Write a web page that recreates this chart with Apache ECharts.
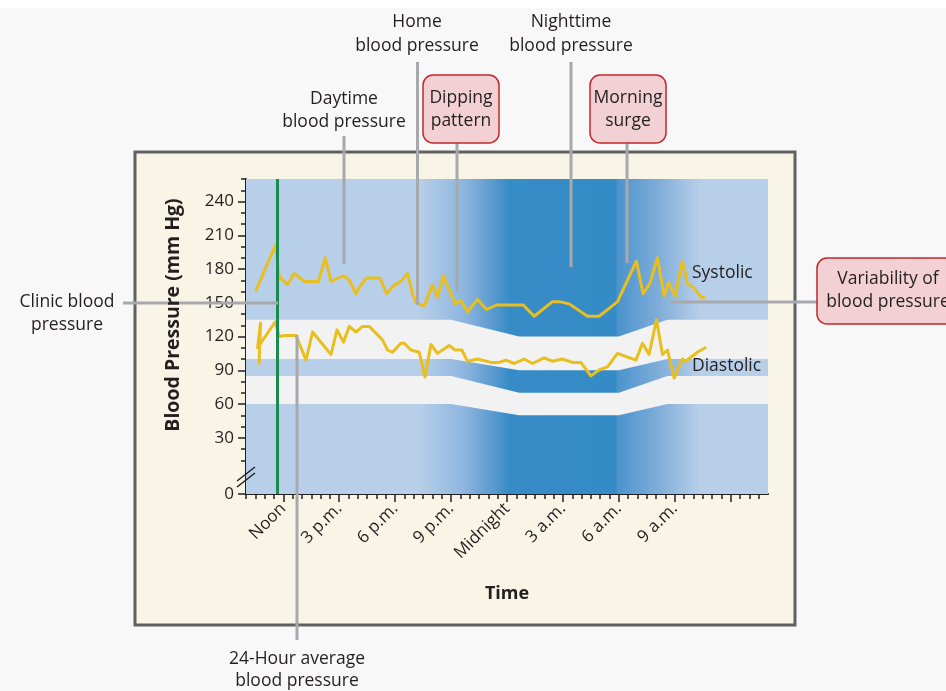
<!DOCTYPE html>
<html><head><meta charset="utf-8">
<script src="https://cdn.jsdelivr.net/npm/echarts@6/dist/echarts.min.js"></script>
<style>html,body{margin:0;padding:0;background:#f8f8f8;}#c{width:946px;height:691px;}</style>
</head><body><div id="c"></div><script>
// ---- data (hours after noon, mmHg) ----
const sysHours = [-1.46,-0.43,-0.21,0.23,0.59,1.13,1.89,2.25,2.56,3.22,3.54,3.9,4.17,4.47,5.18,5.54,5.9,6.31,6.66,6.95,7.12,7.56,8.0,8.27,8.58,9.22,9.53,9.88,10.42,10.9,11.44,12.87,13.46,14.44,14.8,15.34,16.32,16.94,17.48,17.93,18.94,19.3,19.66,20.07,20.43,20.66,21.02,21.41,21.68,22.04,22.4,22.57];
const sysValues = [161,201,173,166,176,169,169,190,169,174,170,158,166,172,172,158,165,169,176,157,150,147,166,155,174,149,152,142,153,144,148,148,138,151,151,149,138,138,145,151,187,158,167,190,156,168,156,187,167,163,155,155];
const diaHours = [-1.3,-1.22,-1.38,-0.43,-0.21,0.14,0.68,1.22,1.57,2.56,2.88,3.23,3.54,3.9,4.25,4.61,5.32,5.59,5.86,6.31,6.49,6.85,7.29,7.6,7.92,8.27,8.9,9.22,9.58,9.88,10.42,11.14,11.58,11.94,12.39,12.92,13.37,13.99,14.44,14.97,15.51,15.96,16.5,16.91,17.39,17.93,18.91,19.27,19.62,20.02,20.34,20.61,20.97,21.41,21.59,22.21,22.63];
const diaValues = [96,132,110,133,120,121,121,99,124,104,126,115,129,124,129,129,117,108,106,114,114,108,106,84,113,105,112,108,108,98,100,97,97,99,96,100,96,101,98,100,97,97,85,90,93,105,99,114,104,135,104,108,83,100,98,106,110];
const clinicHour = [-0.32];
const bandHours = [-2, 9, 12.65, 18, 20.6, 26];
const upperBandTop = [135,135,120,120,135,135];
const upperBandBottom = [100,100,90,90,100,100];
const lowerBandTop = [85,85,70,70,85,85];
const lowerBandBottom = [60,60,50,50,60,60];
const xLabelHours = [0,3,6,9,12,15,18,21];
const xLabels = ['Noon','3 p.m.','6 p.m.','9 p.m.','Midnight','3 a.m.','6 a.m.','9 a.m.'];
const yLabelValues = [-20,30,60,90,120,150,180,210,240];
const yLabels = ['0','30','60','90','120','150','180','210','240'];

const X_MIN = -2, X_MAX = 26, Y_MIN = -20, Y_MAX = 260;
const zip = (a,b) => a.map((v,i)=>[v,b[i]]);
const xMajor = [], xMinor = [];
for (let h = X_MIN; h <= X_MAX - 0.5 + 1e-9; h += 0.5) { if (Math.abs(h % 3) < 1e-9 && h >= 0) xMajor.push(h); else xMinor.push(h); }
const yMinor = [];
for (let v = 10; v <= 260; v += 10) { if (v % 30 !== 0) yMinor.push(v); }

const FONT = 'Open Sans';
const TXT = '#231f20';
const chart = echarts.init(document.getElementById('c'), null, {renderer:'canvas'});

function bandPoly(api, top, bottom){
  const pts = [];
  for (let i=0;i<bandHours.length;i++) pts.push(api.coord([bandHours[i], top[i]]));
  for (let i=bandHours.length-1;i>=0;i--) pts.push(api.coord([bandHours[i], bottom[i]]));
  return {type:'polygon', shape:{points:pts}, style:{fill:'#f2f2f2'}};
}

const hiddenLine = {show:true, onZero:false, lineStyle:{color:'rgba(0,0,0,0)', width:0}};
const axisCommon = {min:Y_MIN, max:Y_MAX, type:'value', splitLine:{show:false}};
const leader = (x1,y1,x2,y2) => ({type:'line', z:20, shape:{x1,y1,x2,y2}, style:{stroke:'#a7a9ac', lineWidth:3}});
const TFONT = '17.5px "'+FONT+'"';
const txt = (x,y,text,opt={}) => ({type:'text', z:21, x, y, style:Object.assign({text, fill:TXT, font:TFONT, align:'center', verticalAlign:'middle', lineHeight:23}, opt)});
const redBox = (x,y,w,h,text,cx,cy) => ({type:'group', z:21, children:[
  {type:'rect', z:21, shape:{x,y,width:w,height:h,r:10}, style:{fill:'#f2d0d3', stroke:'#c1272d', lineWidth:1.5}},
  {type:'text', z:22, x:cx, y:cy, style:{text, fill:TXT, font:TFONT, align:'center', verticalAlign:'middle', lineHeight:23}}
]});

chart.setOption({
  animation:false,
  backgroundColor:'#f8f8f8',
  grid:{left:246, right:178, top:179, bottom:197},
  xAxis:[
    {type:'value', min:X_MIN, max:X_MAX, splitLine:{show:false},
     axisLine:{show:true, onZero:false, lineStyle:{color:TXT, width:2}},
     axisTick:{show:true, customValues:xMajor, length:8, lineStyle:{color:TXT, width:1.5}},
     axisLabel:{show:true, customValues:xLabelHours, rotate:45, margin:12, fontSize:17, fontFamily:FONT, color:TXT,
       formatter:(v)=>{const i=xLabelHours.indexOf(v); return i>=0?xLabels[i]:'';}}},
    {type:'value', min:X_MIN, max:X_MAX, splitLine:{show:false}, position:'bottom',
     axisLine:hiddenLine, axisLabel:{show:false},
     axisTick:{show:true, customValues:xMinor, length:5, lineStyle:{color:TXT, width:1.5}}}
  ],
  yAxis:[
    Object.assign({}, axisCommon, {
      axisLine:{show:true, onZero:false, lineStyle:{color:TXT, width:2}},
      axisTick:{show:true, customValues:yLabelValues, length:8, lineStyle:{color:TXT, width:1.5}},
      axisLabel:{show:true, customValues:yLabelValues, margin:12, fontSize:17, fontFamily:FONT, color:TXT,
        formatter:(v)=>{const i=yLabelValues.indexOf(v); return i>=0?yLabels[i]:'';}}}),
    Object.assign({}, axisCommon, {position:'left',
      axisLine:hiddenLine, axisLabel:{show:false},
      axisTick:{show:true, customValues:yMinor, length:5, lineStyle:{color:TXT, width:1.5}}})
  ],
  series:[
    {type:'custom', silent:true, z:1, data:[[X_MIN,Y_MIN]], clip:false,
     renderItem:function(params, api){
       const tl = api.coord([X_MIN, Y_MAX]), br = api.coord([X_MAX, Y_MIN]);
       return {type:'group', children:[
         {type:'rect', shape:{x:tl[0], y:tl[1], width:br[0]-tl[0], height:br[1]-tl[1]},
          style:{fill:new echarts.graphic.LinearGradient(0,0,1,0,[
            {offset:0,color:'#b8cfe9'},{offset:0.33,color:'#b8cfe9'},{offset:0.42,color:'#8cb5de'},
            {offset:0.47,color:'#5d9bd0'},{offset:0.505,color:'#378cc6'},{offset:0.708,color:'#358bc6'},
            {offset:0.712,color:'#4b94cc'},{offset:0.79,color:'#7fadd9'},{offset:0.87,color:'#b8cfe9'},{offset:1,color:'#b8cfe9'}])}},
         bandPoly(api, upperBandTop, upperBandBottom),
         bandPoly(api, lowerBandTop, lowerBandBottom)
       ]};
     }},
    {name:'Systolic', type:'line', z:3, data:zip(sysHours, sysValues), showSymbol:false, silent:true,
     lineStyle:{color:'#e8bf1f', width:3, join:'round', cap:'round'}},
    {name:'Diastolic', type:'line', z:3, data:zip(diaHours, diaValues), showSymbol:false, silent:true,
     lineStyle:{color:'#e8bf1f', width:3, join:'round', cap:'round'}},
    {name:'Clinic', type:'line', z:4, data:[], silent:true,
     markLine:{symbol:['none','none'], silent:true, label:{show:false}, lineStyle:{color:'#1b8a4f', width:3, type:'solid'},
       data:clinicHour.map(h=>({xAxis:h}))}}
  ],
  graphic:[
    {type:'rect', z:-10, shape:{x:0,y:0,width:946,height:8}, style:{fill:'#ffffff'}},
    {type:'rect', z:-5, shape:{x:135,y:152,width:660,height:473}, style:{fill:'#f8f5e7', stroke:'#616161', lineWidth:3}},
    // axis break marks
    {type:'line', z:22, shape:{x1:237,y1:481,x2:255,y2:467}, style:{stroke:TXT, lineWidth:1.5}},
    {type:'line', z:22, shape:{x1:237,y1:487,x2:255,y2:473}, style:{stroke:TXT, lineWidth:1.5}},
    // leader lines
    leader(344,136,344,264),
    leader(417.5,62,417.5,305),
    leader(457,143,457,292),
    leader(571,62,571,267),
    leader(627,143,627,263),
    leader(123,303,278,303),
    leader(670,302,817,302),
    leader(297,335,297,640),
    // annotation text
    txt(417,34,'Home\nblood pressure',{lineHeight:24}),
    txt(571,34,'Nighttime\nblood pressure',{lineHeight:24}),
    txt(344,110.5,'Daytime\nblood pressure'),
    txt(67,313.5,'Clinic blood\npressure'),
    txt(297,670,'24-Hour average\nblood pressure', {lineHeight:22}),
    txt(692,273,'Systolic',{align:'left'}),
    txt(692,366,'Diastolic',{align:'left'}),
    redBox(423,75,76,68,'Dipping\npattern',461,110),
    redBox(590,75,76,68,'Morning\nsurge',628,110),
    redBox(817,258,140,66,'Variability of\nblood pressure',888,290.5),
    {type:'text', z:21, x:173, y:315, rotation:Math.PI/2, style:{text:'Blood Pressure (mm Hg)', fill:TXT, font:'bold 19.5px "'+FONT+'"', align:'center', verticalAlign:'middle'}},
    {type:'text', z:21, x:507, y:594, style:{text:'Time', fill:TXT, font:'bold 18px "'+FONT+'"', align:'center', verticalAlign:'middle'}}
  ]
});
</script></body></html>
